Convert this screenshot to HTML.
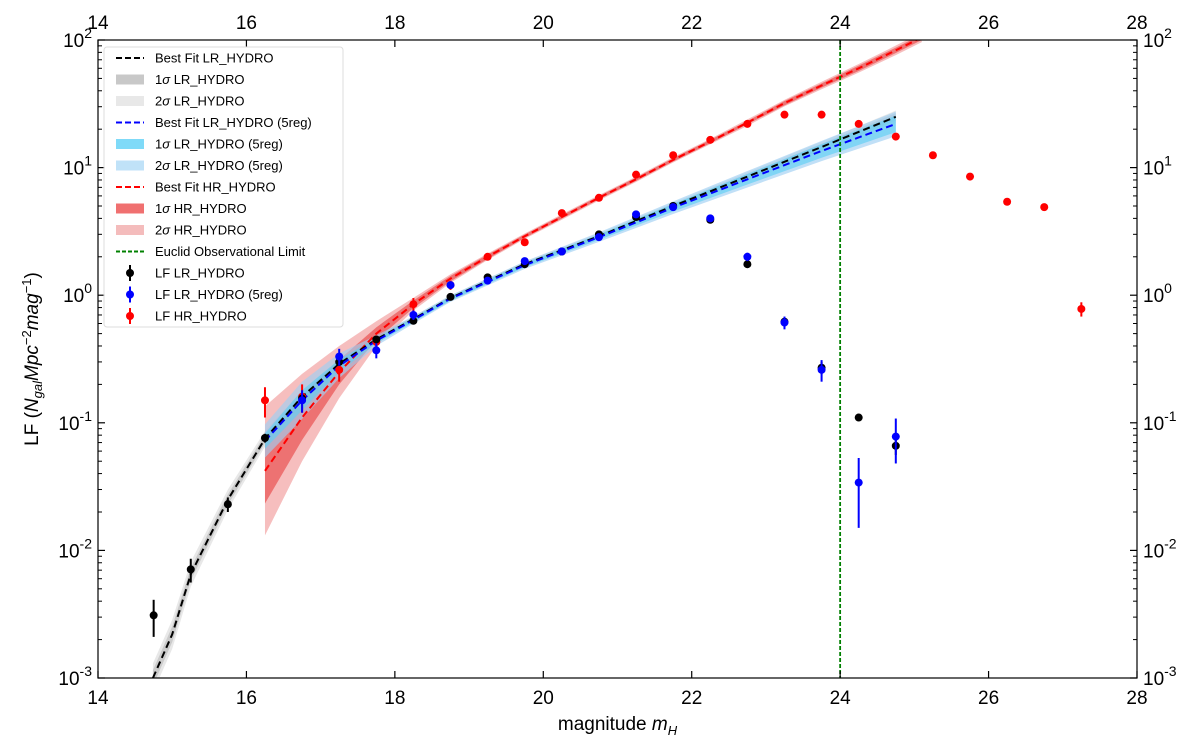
<!DOCTYPE html>
<html><head><meta charset="utf-8"><style>
body{margin:0;background:#fff}
svg{font-family:"Liberation Sans","DejaVu Sans",sans-serif}
</style></head><body>
<svg id="c" width="1200" height="740" xmlns="http://www.w3.org/2000/svg"></svg>
<script>
const fitX=[14.74,15.0,15.25,15.75,16.25,16.75,17.25,17.75,18.25,18.75,19.75,20.75,21.75,22.75,23.75,24.75];
const fitLR=[0.001,0.0022,0.0065,0.025,0.075,0.16,0.29,0.45,0.65,0.95,1.75,2.9,5.0,8.5,14.5,25];
const fitX5=[16.25,16.75,17.25,17.75,18.25,18.75,19.75,20.75,21.75,22.75,23.75,24.75];
const fit5=[0.072,0.15,0.28,0.44,0.64,0.94,1.72,2.85,4.85,8.1,13.5,22];
const fitXHR=[16.25,16.75,17.25,17.75,18.25,18.75,19.25,19.75,20.25,20.75,21.25,21.75,22.25,22.75,23.25,23.75,24.25,24.75,25.1];
const fitHR=[0.042,0.11,0.25,0.5,0.85,1.35,2.0,2.9,4.1,5.8,8.1,11.5,16,22.5,32,44,60,83,105];
const bandLR1=[1.15,1.15,1.12,1.1,1.08,1.07,1.05,1.04,1.03,1.03,1.03,1.03,1.04,1.05,1.06,1.07];
const bandLR2=[1.3,1.3,1.25,1.2,1.15,1.12,1.08,1.06,1.05,1.05,1.05,1.05,1.06,1.08,1.1,1.12];
const band5_1=[1.15,1.2,1.12,1.05,1.04,1.04,1.04,1.05,1.07,1.1,1.13,1.16];
const band5_2=[1.35,1.4,1.25,1.1,1.07,1.06,1.07,1.09,1.12,1.16,1.2,1.25];
const bandHR1=[1.8,1.5,1.25,1.12,1.07,1.05,1.04,1.03,1.03,1.03,1.03,1.03,1.03,1.03,1.04,1.04,1.05,1.05,1.05];
const bandHR2=[3.2,2.2,1.6,1.25,1.12,1.08,1.06,1.05,1.05,1.05,1.05,1.05,1.05,1.06,1.06,1.07,1.08,1.09,1.09];
const ptX=[14.75,15.25,15.75,16.25,16.75,17.25,17.75,18.25,18.75,19.25,19.75,20.25,20.75,21.25,21.75,22.25,22.75,23.25,23.75,24.25,24.75];
const lfLR=[0.0031,0.0071,0.023,0.076,0.155,0.30,0.45,0.63,0.97,1.38,1.75,2.2,3.0,4.1,5.0,3.9,1.75,0.62,0.27,0.11,0.066];
const lfLRerr=[0.001,0.0015,0.003,0.006,0.015,0.02,0.02,0.03,0.04,0.05,0.05,0.06,0.08,0.1,0.12,0.12,0.08,0.05,0.03,0.006,0.01];
const ptX5=[16.75,17.25,17.75,18.25,18.75,19.25,19.75,20.25,20.75,21.25,21.75,22.25,22.75,23.25,23.75,24.25,24.75];
const lf5=[0.15,0.33,0.37,0.70,1.2,1.3,1.85,2.2,2.85,4.3,4.9,4.0,2.0,0.61,0.26,0.034,0.078];
const lf5err=[0.03,0.05,0.05,0.06,0.08,0.08,0.1,0.1,0.12,0.15,0.2,0.2,0.15,0.07,0.05,0.019,0.03];
const ptXHR=[16.25,16.75,17.25,17.75,18.25,18.75,19.25,19.75,20.25,20.75,21.25,21.75,22.25,22.75,23.25,23.75,24.25,24.75,25.25,25.75,26.25,26.75,27.25];
const lfHR=[0.15,0.16,0.26,0.43,0.85,1.2,2.0,2.6,4.4,5.8,8.8,12.5,16.5,22,26,26,22,17.5,12.5,8.5,5.4,4.9,0.78];
const lfHRerr=[0.04,0.04,0.05,0.05,0.1,0.1,0.1,0.1,0.15,0.2,0.3,0.3,0.4,0.5,0.5,0.5,0.5,0.5,0.4,0.3,0.2,0.2,0.1];
const xTicks=[14,16,18,20,22,24,26,28];
const yTicks=[-3,-2,-1,0,1,2];
const euclidLimit=24;

const L=98,R=1137,T=40,B=678;
const sx=v=>L+(v-14)/(28-14)*(R-L);
const sy=v=>B-(Math.log10(v)+3)/5*(B-T);
const svg=document.getElementById('c');
const NS='http://www.w3.org/2000/svg';
function mk(tag,attrs,parent){const e=document.createElementNS(NS,tag);for(const k in attrs)e.setAttribute(k,attrs[k]);(parent||svg).appendChild(e);return e;}
const defs=mk('defs',{});const cp=mk('clipPath',{id:'clip'},defs);mk('rect',{x:L,y:T,width:R-L,height:B-T},cp);
const plot=mk('g',{'clip-path':'url(#clip)'});



function band(xs,ys,f,color,op,name){
  let d='';xs.forEach((x,i)=>{d+=(i?'L':'M')+sx(x)+','+sy(ys[i]*f[i]);});
  for(let i=xs.length-1;i>=0;i--)d+='L'+sx(xs[i])+','+sy(ys[i]/f[i]);
  const p=mk('path',{d:d+'Z',fill:color,'fill-opacity':op,stroke:'none'},plot);
  
  
}
function line(xs,ys,color,name,dash){
  const d=xs.map((x,i)=>(i?'L':'M')+sx(x)+','+sy(ys[i])).join('');
  const p=mk('path',{d:d,fill:'none',stroke:color,'stroke-width':2,'stroke-dasharray':dash||'7,4'},plot);
  
  
}
band(fitX,fitLR,bandLR2,'#d8d8d8',0.6,'band-2sigma-lr');
band(fitX,fitLR,bandLR1,'#b8b8b8',0.6,'band-1sigma-lr');
band(fitXHR,fitHR,bandHR2,'#ee8888',0.55,'band-2sigma-hr');
band(fitXHR,fitHR,bandHR1,'#e84040',0.6,'band-1sigma-hr');
band(fitX5,fit5,band5_2,'#9fd0f3',0.65,'band-2sigma-5reg');
band(fitX5,fit5,band5_1,'#5fcff5',0.65,'band-1sigma-5reg');
line(fitXHR,fitHR,'#ff0000','fit-hr');
line(fitX,fitLR,'#000','fit-lr');
line(fitX5,fit5,'#0000ff','fit-5reg');
const ev=mk('line',{x1:sx(euclidLimit),x2:sx(euclidLimit),y1:T,y2:B,stroke:'#008000','stroke-width':1.8,'stroke-dasharray':'4,2'},plot);


function pts(xs,ys,es,color,name){
  xs.forEach((x,i)=>{
    const g=mk('g',{},plot);
    
    
    const lo=Math.max(ys[i]-es[i],1e-4);
    mk('line',{x1:sx(x),x2:sx(x),y1:sy(ys[i]+es[i]),y2:sy(lo),stroke:color,'stroke-width':2},g);
    mk('circle',{cx:sx(x),cy:sy(ys[i]),r:4,fill:color},g);
  });
}
pts(ptXHR,lfHR,lfHRerr,'#ff0000','point-hr');
pts(ptX,lfLR,lfLRerr,'#000','point-lr');
pts(ptX5,lf5,lf5err,'#0000ff','point-5reg');

const fr=mk('rect',{x:L,y:T,width:R-L,height:B-T,fill:'none',stroke:'#000','stroke-width':1.2});


xTicks.forEach(v=>{
  const x=sx(v);
  mk('line',{x1:x,x2:x,y1:B,y2:B-7,stroke:'#000','stroke-width':1.2});
  mk('line',{x1:x,x2:x,y1:T,y2:T+7,stroke:'#000','stroke-width':1.2});
  const t1=mk('text',{x:x,y:B+26,'font-size':19,'text-anchor':'middle'});t1.textContent=v;
  
  
  const t2=mk('text',{x:x,y:T-11,'font-size':19,'text-anchor':'middle'});t2.textContent=v;
  
  
});
yTicks.forEach(e=>{
  const y=sy(Math.pow(10,e));
  mk('line',{x1:L,x2:L+7,y1:y,y2:y,stroke:'#000','stroke-width':1.2});
  mk('line',{x1:R,x2:R-7,y1:y,y2:y,stroke:'#000','stroke-width':1.2});
  if(e<2)for(let m=2;m<10;m++){const yy=sy(m*Math.pow(10,e));
    mk('line',{x1:L,x2:L+4,y1:yy,y2:yy,stroke:'#000','stroke-width':1});
    mk('line',{x1:R,x2:R-4,y1:yy,y2:yy,stroke:'#000','stroke-width':1});}
  [[L-6,'end','y-tick-label'],[R+6,'start','y-right-tick-label']].forEach(([x,a,n])=>{
    const t=mk('text',{x:x,y:y+7,'font-size':19,'text-anchor':a});
    
    
    t.innerHTML='10<tspan dy="-9" font-size="14">'+e+'</tspan>';
  });
});
const xl=mk('text',{x:(L+R)/2,y:B+52,'font-size':19,'text-anchor':'middle'});


xl.innerHTML='magnitude <tspan font-style="italic">m</tspan><tspan font-style="italic" font-size="13" dy="5">H</tspan>';
const yl=mk('text',{x:0,y:0,'font-size':19,'text-anchor':'middle',transform:'translate(38,'+((T+B)/2)+') rotate(-90)'});


yl.innerHTML='LF (<tspan font-style="italic">N</tspan><tspan font-style="italic" font-size="13" dy="4">gal</tspan><tspan dy="-4" font-style="italic">Mpc</tspan><tspan dy="-7" font-size="13">−2</tspan><tspan dy="7" font-style="italic">mag</tspan><tspan dy="-7" font-size="13">−1</tspan><tspan dy="7">)</tspan>';

const lg=mk('g',{});


mk('rect',{x:104,y:47,width:239,height:280,rx:3,fill:'#fff','fill-opacity':0.85,stroke:'#ddd'},lg);
const items=[['line','#000','Best Fit LR_HYDRO'],['patch','#c8c8c8','1σ LR_HYDRO'],['patch','#e8e8e8','2σ LR_HYDRO'],
['line','#0000ff','Best Fit LR_HYDRO (5reg)'],['patch','#7fdaf8','1σ LR_HYDRO (5reg)'],['patch','#c0e2f8','2σ LR_HYDRO (5reg)'],
['line','#ff0000','Best Fit HR_HYDRO'],['patch','#f07070','1σ HR_HYDRO'],['patch','#f4bcbc','2σ HR_HYDRO'],
['line','#008000','Euclid Observational Limit'],['pt','#000','LF LR_HYDRO'],['pt','#0000ff','LF LR_HYDRO (5reg)'],['pt','#ff0000','LF HR_HYDRO']];
items.forEach((it,i)=>{
  const y=58+i*21.5;
  const g=mk('g',{},lg);
  
  
  if(it[0]==='line')mk('line',{x1:116,x2:144,y1:y,y2:y,stroke:it[1],'stroke-width':2,'stroke-dasharray':it[1]==='#008000'?'4,2':'6,3'},g);
  else if(it[0]==='patch')mk('rect',{x:116,y:y-5,width:28,height:10,fill:it[1]},g);
  else{mk('line',{x1:130,x2:130,y1:y-8,y2:y+8,stroke:it[1],'stroke-width':2},g);mk('circle',{cx:130,cy:y,r:4,fill:it[1]},g);}
  const t=mk('text',{x:155,y:y+4.5,'font-size':13},g);
  t.innerHTML=it[2].replace('σ','<tspan font-style="italic">σ</tspan>');
});
</script>
</body></html>
